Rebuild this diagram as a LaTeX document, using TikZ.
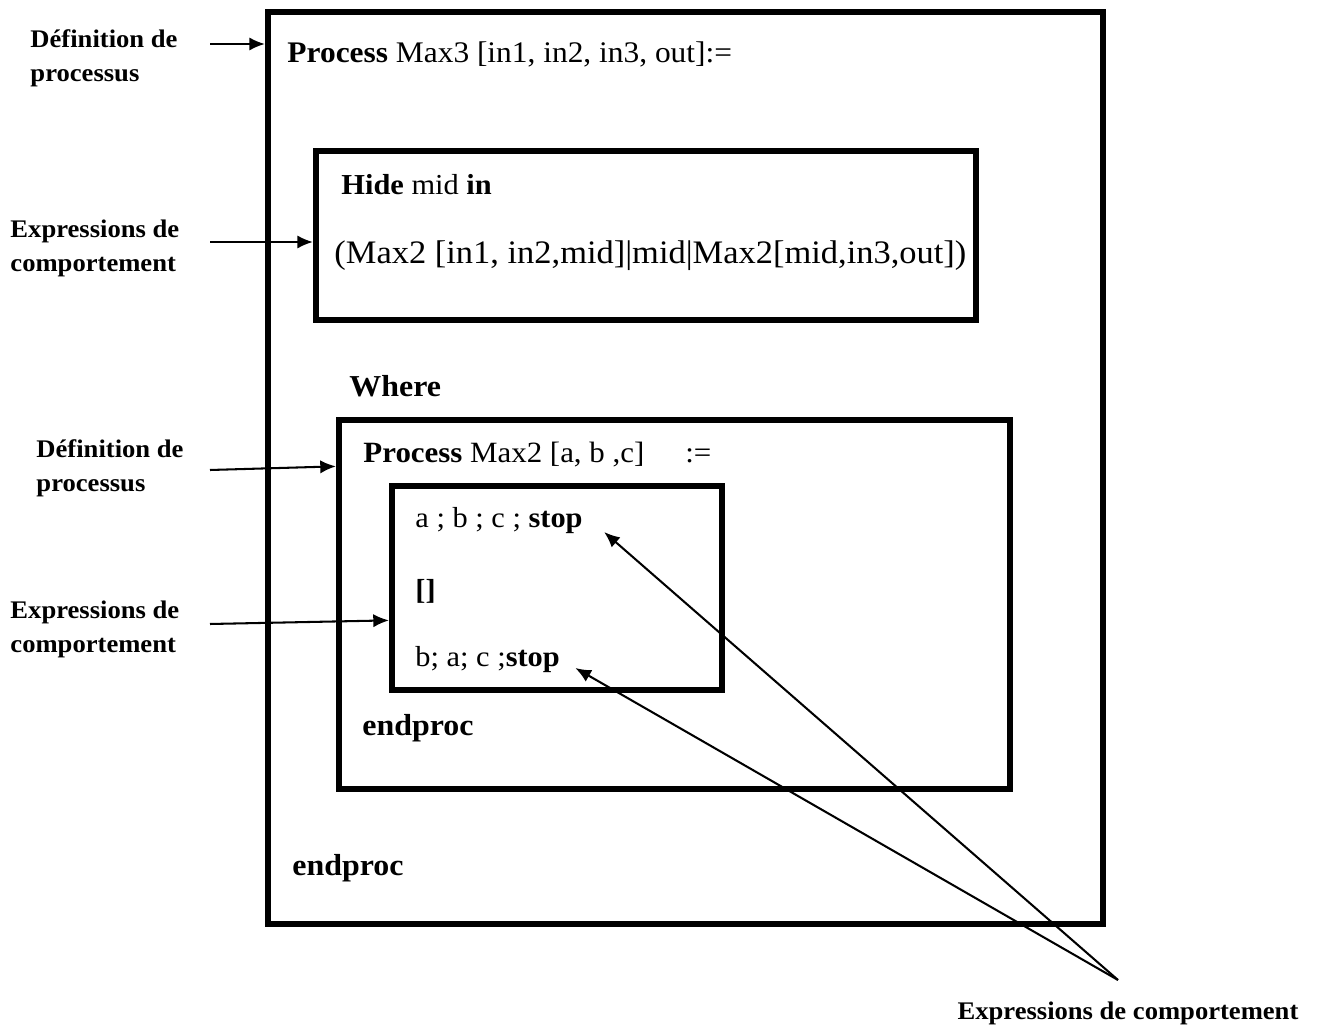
\documentclass[tikz,border=0pt]{standalone}
\usepackage{fontspec}
\setmainfont[FakeStretch=1.05]{Liberation Serif}
\usetikzlibrary{arrows.meta,fit}

\newcommand{\fs}[1]{\fontsize{#1}{14.5}\selectfont}

\begin{document}
\begin{tikzpicture}[
  x = 0.4145pt, y = -0.4145pt,
  > = {Latex[length=6.5pt,width=5.5pt]},
  box/.style = {draw,line width=2.5pt,inner sep=0pt},
  txt/.style = {anchor=base west,inner sep=0pt,font=\fs{12}},
  bold/.style = {font=\fs{12.6}\bfseries},
  lbl/.style = {anchor=base west,inner sep=0pt,align=left,font=\fs{10.5}\bfseries},
  pointer/.style = {->,line width=0.85pt}
  ]
  \useasboundingbox (0,0) rectangle (1318,1026);

  % boxes
  \node[box,fit={(268,12) (1103,924)}] (max3) {};
  \node[box,fit={(316,151) (976,320)}] (hide) {};
  \node[box,fit={(339,420) (1010,789)}] (max2) {};
  \node[box,fit={(392,486) (722,690)}] (choice) {};

  % texts in the boxes
  \node[txt,font=\fs{12.4}] (max3head) at (287,63) {\textbf{Process} Max3 [in1, in2, in3, out]:=};
  \node[txt] (hidehead) at (341,195) {\textbf{Hide} mid \textbf{in}};
  \node[txt,font=\fs{13.6}] (par) at (334,264) {(Max2 [in1, in2,mid]|mid|Max2[mid,in3,out])};
  \node[txt,bold] (where) at (349,397) {Where};
  \node[txt,font=\fs{12.2}] (max2head) at (363,463) {\textbf{Process} Max2 [a, b ,c]\hspace{17pt}:=};
  \node[txt] (choiceA) at (415,528) {a ; b ; c ; \textbf{stop}};
  \node[txt] (alt) at (415,600) {\textbf{[]}};
  \node[txt] (choiceB) at (415,667) {b; a; c ;\textbf{stop}};
  \node[txt,bold] (endB) at (362,736) {endproc};
  \node[txt,bold] (endA) at (292,876) {endproc};

  % labels on the left
  \node[lbl] (defA) at (30,82) {Définition de\\processus};
  \node[lbl] (exprA) at (10,272) {Expressions de\\comportement};
  \node[lbl] (defB) at (36,492) {Définition de\\processus};
  \node[lbl] (exprB) at (10,653) {Expressions de\\comportement};
  \node[lbl,anchor=base] (exprC) at (1128,1020) {Expressions de comportement};

  \coordinate (fromA) at (210,44);
  \coordinate (fromB) at (210,242);
  \coordinate (fromC) at (210,470);
  \coordinate (fromD) at (210,624);
  \coordinate (meet) at (1118,980);

  \draw[pointer] (fromA) -- (max3.west |- fromA);
  \draw[pointer] (fromB) -- (hide.west |- fromB);
  \draw[pointer] (fromC) -- ([yshift=1.5pt]max2.west |- fromC);
  \draw[pointer] (fromD) -- ([yshift=1.5pt]choice.west |- fromD);
  \draw[pointer] (meet) -- ([shift={(21,4)}]choiceA.base east);
  \draw[pointer] (meet) -- ([shift={(15,1)}]choiceB.base east);
\end{tikzpicture}
\end{document}
